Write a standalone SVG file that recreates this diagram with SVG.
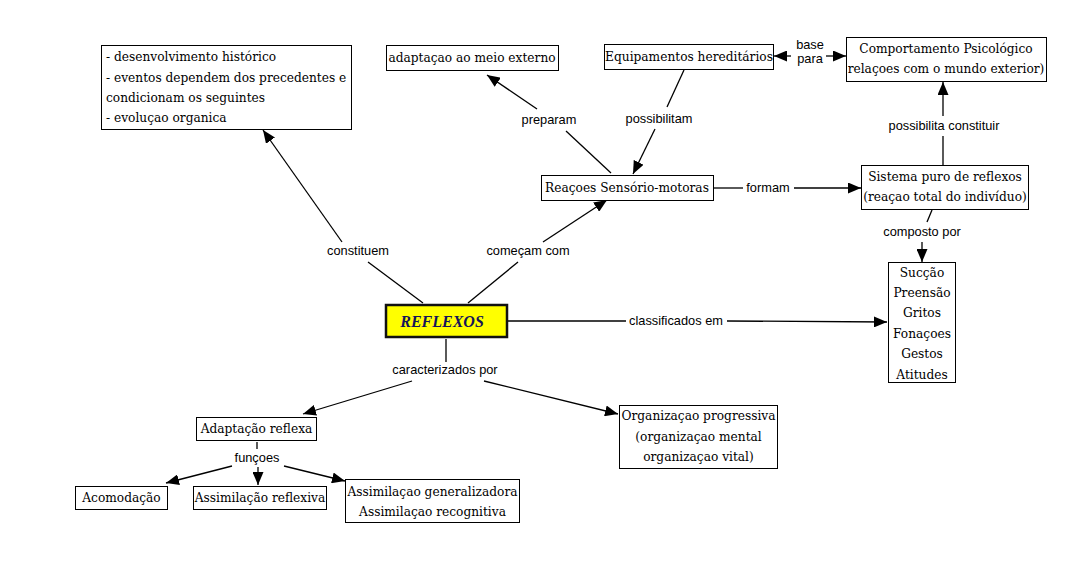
<svg xmlns="http://www.w3.org/2000/svg" width="1086" height="563" viewBox="0 0 1086 563">
<defs>
<marker id="arr" markerUnits="userSpaceOnUse" markerWidth="13" markerHeight="11" refX="13" refY="5.5" orient="auto">
<path d="M0,0 L13,5.5 L0,11 z" fill="#000"/>
</marker>
<style>
.box{fill:#fff;stroke:#000;stroke-width:1}
.t{font-family:"DejaVu Serif","Liberation Serif",serif;font-size:12.2px;fill:#000}
.c{text-anchor:middle}
.lbl{font-family:"Liberation Sans",Arial,sans-serif;font-size:12.8px;fill:#000;text-anchor:middle}
.ln{stroke:#000;stroke-width:1.3;fill:none}
.a{marker-end:url(#arr)}
</style>
</defs>
<rect width="1086" height="563" fill="#fff"/>

<g id="connectors">
<line class="ln" x1="423" y1="303" x2="368" y2="262"/>
<line class="ln a" x1="342" y1="242" x2="263" y2="130"/>
<text class="lbl" x="358" y="255">constituem</text>

<line class="ln" x1="468" y1="303" x2="518" y2="262"/>
<line class="ln a" x1="543" y1="242" x2="607" y2="200"/>
<text class="lbl" x="528" y="255">começam com</text>

<line class="ln" x1="611" y1="173" x2="566" y2="131"/>
<line class="ln a" x1="537" y1="109" x2="487" y2="75"/>
<text class="lbl" x="549" y="124">preparam</text>

<line class="ln" x1="684" y1="70" x2="667" y2="107"/>
<line class="ln a" x1="655" y1="129" x2="633" y2="174"/>
<text class="lbl" x="659" y="123">possibilitam</text>

<line class="ln a" x1="791" y1="56" x2="774" y2="56"/>
<line class="ln a" x1="826" y1="56" x2="846" y2="56"/>
<text class="lbl" x="810" y="49">base</text>
<text class="lbl" x="810" y="63">para</text>

<line class="ln" x1="943" y1="165" x2="943" y2="136"/>
<line class="ln a" x1="943" y1="116" x2="943" y2="82"/>
<text class="lbl" x="944" y="130">possibilita constituir</text>

<line class="ln" x1="714" y1="188" x2="743" y2="188"/>
<line class="ln a" x1="794" y1="188" x2="861" y2="188"/>
<text class="lbl" x="768" y="192">formam</text>

<line class="ln" x1="932" y1="210" x2="927" y2="222"/>
<line class="ln a" x1="922" y1="242" x2="922" y2="262"/>
<text class="lbl" x="922" y="236">composto por</text>

<line class="ln" x1="508" y1="321" x2="626" y2="321"/>
<line class="ln a" x1="727" y1="321" x2="887" y2="322"/>
<text class="lbl" x="676" y="325">classificados em</text>

<line class="ln" x1="446" y1="339" x2="446" y2="362"/>
<line class="ln a" x1="412" y1="381" x2="303" y2="414"/>
<line class="ln a" x1="484" y1="381" x2="618" y2="414"/>
<text class="lbl" x="445" y="374">caracterizados por</text>

<line class="ln" x1="257" y1="442" x2="257" y2="449"/>
<line class="ln a" x1="232" y1="466" x2="166" y2="483"/>
<line class="ln a" x1="258" y1="467" x2="258" y2="485"/>
<line class="ln a" x1="284" y1="466" x2="345" y2="481"/>
<text class="lbl" x="257" y="462">funçoes</text>
</g>

<g id="n-historico">
<rect class="box" x="101.5" y="45.5" width="250" height="84"/>
<text class="t" x="106" y="61">- desenvolvimento histórico</text>
<text class="t" x="106" y="82">- eventos dependem dos precedentes e</text>
<text class="t" x="106" y="102">condicionam os seguintes</text>
<text class="t" x="106" y="122">- evoluçao organica</text>
</g>

<g id="n-adaptacao-meio">
<rect class="box" x="386.5" y="45.5" width="172" height="25"/>
<text class="t c" x="472" y="62">adaptaçao ao meio externo</text>
</g>

<g id="n-equipamentos">
<rect class="box" x="604.5" y="44.5" width="169" height="25"/>
<text class="t c" x="689" y="61">Equipamentos hereditários</text>
</g>

<g id="n-comportamento">
<rect class="box" x="846.5" y="37.5" width="200" height="44"/>
<text class="t c" x="946" y="53">Comportamento Psicológico</text>
<text class="t c" x="946" y="73">relaçoes com o mundo exterior)</text>
</g>

<g id="n-reacoes">
<rect class="box" x="541.5" y="175.5" width="172" height="25"/>
<text class="t c" x="627" y="192">Reaçoes Sensório-motoras</text>
</g>

<g id="n-sistema">
<rect class="box" x="861.5" y="165.5" width="167" height="44"/>
<text class="t c" x="945" y="181">Sistema puro de reflexos</text>
<text class="t c" x="945" y="201">(reaçao total do indivíduo)</text>
</g>

<g id="n-reflexos">
<rect x="386" y="305" width="121" height="32" fill="#ffff00" stroke="#111" stroke-width="2.5"/>
<text x="442" y="327" text-anchor="middle" font-family="'Liberation Serif',serif" font-size="16" font-weight="bold" font-style="italic" fill="#14145a">REFLEXOS</text>
</g>

<g id="n-lista">
<rect class="box" x="888.5" y="262.5" width="67" height="120"/>
<text class="t c" x="922" y="277">Sucção</text>
<text class="t c" x="922" y="297">Preensão</text>
<text class="t c" x="922" y="317">Gritos</text>
<text class="t c" x="922" y="338">Fonaçoes</text>
<text class="t c" x="922" y="358">Gestos</text>
<text class="t c" x="922" y="379">Atitudes</text>
</g>

<g id="n-adaptacao-reflexa">
<rect class="box" x="196.5" y="417.5" width="120" height="23"/>
<text class="t c" x="256.5" y="433">Adaptação reflexa</text>
</g>

<g id="n-organizacao">
<rect class="box" x="619.5" y="405.5" width="158" height="63"/>
<text class="t c" x="698.5" y="420">Organizaçao progressiva</text>
<text class="t c" x="698.5" y="441">(organizaçao mental</text>
<text class="t c" x="698.5" y="461">organizaçao vital)</text>
</g>

<g id="n-acomodacao">
<rect class="box" x="75.5" y="486.5" width="92" height="23"/>
<text class="t c" x="121.5" y="502">Acomodação</text>
</g>

<g id="n-assim-reflexiva">
<rect class="box" x="193.5" y="486.5" width="133" height="23"/>
<text class="t c" x="260" y="502">Assimilação reflexiva</text>
</g>

<g id="n-assim-gen">
<rect class="box" x="345.5" y="479.5" width="174" height="43"/>
<text class="t c" x="432.5" y="496">Assimilaçao generalizadora</text>
<text class="t c" x="432.5" y="516">Assimilaçao recognitiva</text>
</g>
</svg>
